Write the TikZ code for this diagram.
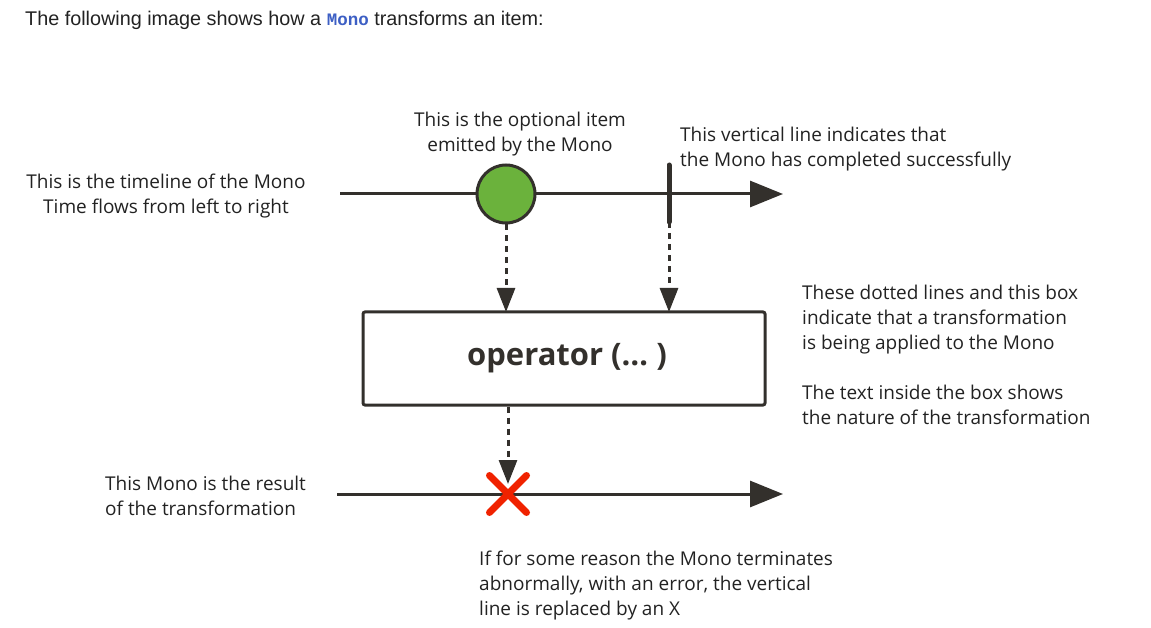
\documentclass[tikz,border=0pt]{standalone}
\usepackage{fontspec}
\setmainfont{Open Sans}
\newfontfamily\hdrfont{Liberation Sans}
\newfontfamily\hdrmono{Liberation Mono}
\usetikzlibrary{arrows.meta,calc}
\definecolor{ink}{HTML}{33302C}
\definecolor{itemgreen}{HTML}{6BB23C}
\definecolor{errred}{HTML}{F02200}
\definecolor{codeblue}{HTML}{3D5FC4}
\definecolor{txt}{HTML}{222222}
\begin{document}
\begin{tikzpicture}[x=1pt,y=-1pt,
  timeline/.style={draw=ink,line width=3pt,-{Triangle[length=33pt,width=26pt]}},
  dotarrow/.style={draw=ink,line width=3pt,dash pattern=on 6pt off 5pt,-{Triangle[length=24pt,width=18pt]}},
  note/.style={font=\fontsize{19}{25}\selectfont,text=txt,inner sep=0pt},
  lnote/.style={note,align=left,anchor=north west},
  cnote/.style={note,align=center,anchor=north}]
\useasboundingbox (0,0) rectangle (1151,628);
% header
\node[anchor=base west,inner sep=0pt,font=\hdrfont\fontsize{19.8}{22}\selectfont,text=txt] (hdr) at (25,26)
  {The following image shows how a {\hdrmono\bfseries\fontsize{17.5}{22}\selectfont\color{codeblue}Mono} transforms an item:};
% top timeline
\coordinate (t1s) at (340,194);
\coordinate (t1e) at (783,194);
\draw[timeline] (t1s) -- (t1e);
\node[circle,draw=ink,fill=itemgreen,line width=3pt,minimum size=58pt,inner sep=0pt] (item) at (506,194) {};
\coordinate (bartop) at (669,165);
\coordinate (barbot) at (669,222);
\draw[ink,line width=5pt,line cap=round] (bartop) -- (barbot);
% operator box
\node[draw=ink,line width=3pt,rounded corners=2pt,minimum width=402pt,minimum height=93pt,inner sep=0pt,
  font=\bfseries\fontsize{31}{33}\selectfont,text=ink] (op) at (564,358.5) {\hspace{6pt}operator (\dots\ )};
\coordinate (opin1) at (506,312);
\coordinate (opin2) at (669,312);
\draw[dotarrow] (item.south) -- (opin1);
\draw[dotarrow] (barbot) -- (opin2);
% bottom timeline
\coordinate (t2s) at (337,494);
\coordinate (t2e) at (783,494);
\draw[timeline] (t2s) -- (t2e);
\coordinate (err) at (508,494);
\coordinate (errtop) at (508,484);
\draw[dotarrow] (op.south -| err) -- (errtop);
\draw[errred,line width=7pt,line cap=round] ($(err)+(-18.5,-18.5)$) -- ($(err)+(18.5,18.5)$)
  ($(err)+(-18.5,18.5)$) -- ($(err)+(18.5,-18.5)$);
% notes
\node[cnote] (n1) at (520,112) {This is the optional item\\emitted by the Mono};
\node[lnote] (n2) at (680,127) {This vertical line indicates that\\the Mono has completed successfully};
\node[cnote] (n3) at (166,174) {This is the timeline of the Mono\\Time flows from left to right};
\node[lnote] (n4) at (802,285) {These dotted lines and this box\\indicate that a transformation\\is being applied to the Mono\\[25pt]The text inside the box shows\\the nature of the transformation};
\node[lnote] (n5) at (105,476) {This Mono is the result\\of the transformation};
\node[lnote] (n6) at (479,551) {If for some reason the Mono terminates\\abnormally, with an error, the vertical\\line is replaced by an X};
\end{tikzpicture}
\end{document}
